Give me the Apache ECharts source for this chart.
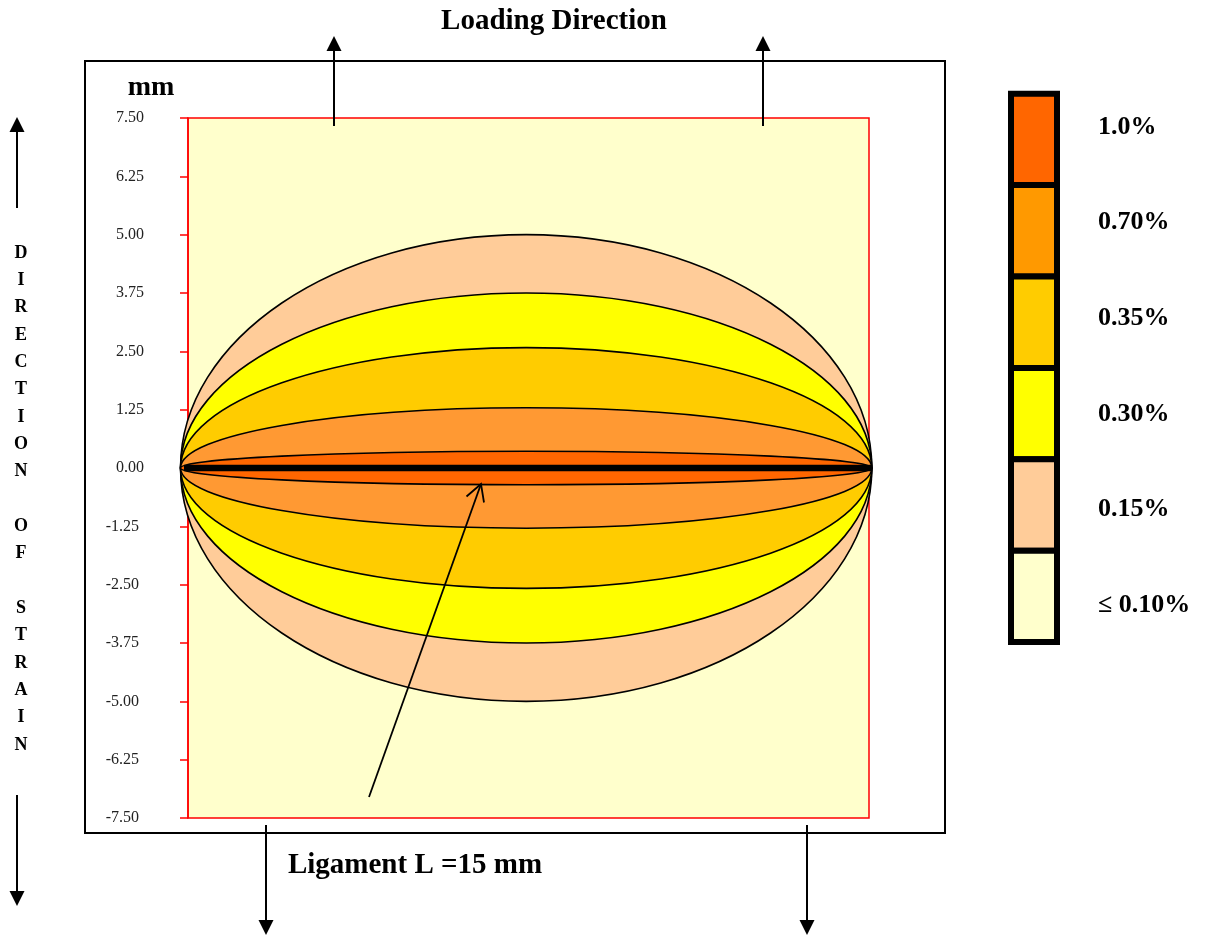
<!DOCTYPE html>
<html>
<head>
<meta charset="utf-8">
<script src="https://cdn.jsdelivr.net/npm/echarts@6/dist/echarts.min.js"></script>
<style>
html,body{margin:0;padding:0;background:#fff;}
#chart{width:1206px;height:936px;}
</style>
</head>
<body>
<div id="chart"></div>
<script>
// ---- data ----
const legendLabels = ['1.0%', '0.70%', '0.35%', '0.30%', '0.15%', '\u2264 0.10%'];
const legendColors = ['#FF6600', '#FF9900', '#FFCC00', '#FFFF00', '#FFCC99', '#FFFFCC'];
const zoneColors = ['#FF6600', '#FF9933', '#FFCC00', '#FFFF00', '#FFCC99'];
const zoneHalfHeights = [0.36, 1.29, 2.58, 3.75, 5.0];   // mm, vertical semi-axis of each strain contour
const halfLigament = 7.41;                               // mm, horizontal semi-axis (crack tip)
const crackLine = [[-7.41, 0], [7.41, 0]];
const yTicks = [-7.5, -6.25, -5, -3.75, -2.5, -1.25, 0, 1.25, 2.5, 3.75, 5, 6.25, 7.5];
const strainLetters = ['D','I','R','E','C','T','I','O','N','','O','F','','S','T','R','A','I','N'];

const FONT = '"Liberation Serif", "Times New Roman", serif';

// contours drawn from largest to smallest
const ellipseData = zoneHalfHeights.map((b, i) => [halfLigament, b, i]).reverse();

const chart = echarts.init(document.getElementById('chart'));

const graphics = [];
// outer frame
graphics.push({type:'rect', shape:{x:85, y:61, width:860, height:772}, style:{fill:'none', stroke:'#000', lineWidth:2}, z:1});
// legend cells
legendColors.forEach((c, i) => {
  graphics.push({type:'rect', shape:{x:1011, y:93.7 + i*91.4, width:46, height:91.4},
    style:{fill:c, stroke:'#000', lineWidth:6}, z:10});
});
legendLabels.forEach((t, i) => {
  graphics.push({type:'text', x:1098, y:127 + i*95.6,
    style:{text:t, font:'bold 26px ' + FONT, fill:'#000', textAlign:'left', textVerticalAlign:'middle'}, z:10});
});
// titles
graphics.push({type:'text', x:554, y:22, style:{text:'Loading Direction', font:'bold 29px ' + FONT, fill:'#000', textAlign:'center', textVerticalAlign:'middle'}, z:10});
graphics.push({type:'text', x:415, y:866, style:{text:'Ligament L =15 mm', font:'bold 29px ' + FONT, fill:'#000', textAlign:'center', textVerticalAlign:'middle'}, z:10});
graphics.push({type:'text', x:151, y:88, style:{text:'mm', font:'bold 28px ' + FONT, fill:'#000', textAlign:'center', textVerticalAlign:'middle'}, z:10});
// vertical direction of strain
strainLetters.forEach((l, i) => {
  if (!l) return;
  graphics.push({type:'text', x:21, y:253 + i*27.33, style:{text:l, font:'bold 18px ' + FONT, fill:'#000', textAlign:'center', textVerticalAlign:'middle'}, z:10});
});
// arrows helper
function arrow(x, y1, y2) { // from y1 to tip y2
  const dir = y2 < y1 ? -1 : 1;
  graphics.push({type:'line', shape:{x1:x, y1:y1, x2:x, y2:y2 - dir*12}, style:{stroke:'#000', lineWidth:2}, z:12});
  graphics.push({type:'polygon', shape:{points:[[x, y2], [x-7.5, y2 - dir*15], [x+7.5, y2 - dir*15]]}, style:{fill:'#000'}, z:12});
}
arrow(334, 126, 36);
arrow(763, 126, 36);
arrow(266, 825, 935);
arrow(807, 825, 935);
arrow(17, 208, 117);
arrow(17, 795, 906);
// pointer arrow to the crack
graphics.push({type:'line', shape:{x1:369, y1:797, x2:481, y2:484}, style:{stroke:'#000', lineWidth:1.8}, z:20});
graphics.push({type:'polyline', shape:{points:[[466.5, 496.5], [481, 484], [484, 502.5]]}, style:{stroke:'#000', lineWidth:1.8, fill:'none'}, z:20});

const option = {
  backgroundColor: '#fff',
  animation: false,
  grid: {left:188, top:118, width:681, height:700, show:true, backgroundColor:'#FFFFCC', borderColor:'#FF0000', borderWidth:1.5},
  xAxis: {type:'value', min:-7.25, max:7.35, show:false},
  yAxis: {
    type:'value', min:-7.5, max:7.5, interval:1.25, position:'left',
    axisLine:{show:true, onZero:false, lineStyle:{color:'#FF0000', width:1.5}},
    axisTick:{show:true, length:8, lineStyle:{color:'#FF0000', width:1.5}},
    splitLine:{show:false},
    axisLabel:{
      margin:44, color:'#222', fontFamily:FONT, fontSize:16,
      formatter: v => v < 0 ? '{n|' + v.toFixed(2) + '}' : v.toFixed(2),
      rich:{n:{fontFamily:FONT, fontSize:16, color:'#222', padding:[0,5,0,0]}}
    }
  },
  series: [
    {
      type:'custom', clip:false, z:2,
      data: ellipseData,
      renderItem: (params, api) => {
        const c = api.coord([0, 0]);
        const s = api.size([api.value(0), api.value(1)]);
        return {
          type:'ellipse',
          shape:{cx:c[0], cy:c[1], rx:s[0], ry:s[1]},
          style:{fill:zoneColors[api.value(2)], stroke:'#000', lineWidth:1.6}
        };
      }
    },
    {
      type:'line', data:crackLine, clip:false, z:5, symbol:'none',
      lineStyle:{color:'#000', width:6.5}
    }
  ],
  graphic: graphics
};
chart.setOption(option);
</script>
</body>
</html>
